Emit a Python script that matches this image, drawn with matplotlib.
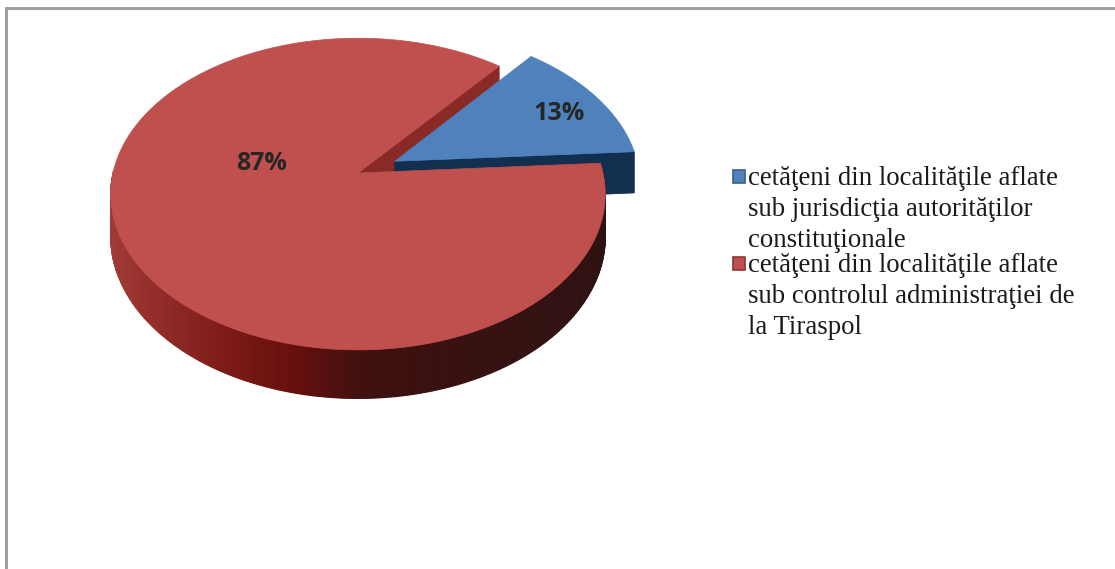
import textwrap
import numpy as np
import matplotlib
matplotlib.use("Agg")
import matplotlib.pyplot as plt
from matplotlib.patches import Polygon, Rectangle
from matplotlib.colors import LinearSegmentedColormap

# ---------------- data ----------------
categories = [
    "cetăţeni din localităţile aflate sub jurisdicţia autorităţilor constituţionale",
    "cetăţeni din localităţile aflate sub controlul administraţiei de la Tiraspol",
]
values = [13, 87]
top_colors = ["#4F81BD", "#C0504D"]
side_colors = ["#132F50", "#8A2A27"]
legend_edge = ["#3A5F8C", "#8E3532"]
explode = [0.17, 0.0]

# ---------------- layout ----------------
W, H = 1115, 569
fig = plt.figure(figsize=(W / 100, H / 100), dpi=100)
ax = fig.add_axes([0, 0, 1, 1])
ax.set_xlim(0, W)
ax.set_ylim(H, 0)
ax.axis("off")

CX, CY, A, B, K, DEPTH = 358, 173, 245, 153, 0.135, 42
START = 50.5  # first slice angle (drawn clockwise from here)

wall_cmap = LinearSegmentedColormap.from_list(
    "wall",
    [(0.0, "#A23A36"), (0.22, "#7E1C18"), (0.38, "#650F0C"),
     (0.50, "#3F1110"), (1.0, "#2E1212")],
)


def P(u, v, down=0.0):
    w = 1 + K * v
    return (CX + A * u / w, CY - B * v / w + down / w)


vals = np.array(values, dtype=float)
fr = vals / vals.sum()
edges = START - 360 * np.concatenate([[0], np.cumsum(fr)])

label_pos = [(559, 113), (262, 163)]
# z-order: radial faces of every slice first, then blue top, then red wall/top
z_radial = [2, 1]
z_wall = [3, 4]
z_top = [3.5, 5]

for i in range(len(values)):
    t2, t1 = edges[i], edges[i + 1]  # wedge spans t1 -> t2 CCW
    mid = np.radians((t1 + t2) / 2)
    du, dv = explode[i] * np.cos(mid), explode[i] * np.sin(mid)
    ts = np.radians(np.linspace(t1, t2, 400))

    # radial side faces
    for a, nrm in ((t1, t1 - 90), (t2, t2 + 90)):
        if np.sin(np.radians(nrm)) < 0:
            ar = np.radians(a)
            ou, ov = du + np.cos(ar), dv + np.sin(ar)
            quad = [P(du, dv), P(ou, ov), P(ou, ov, DEPTH), P(du, dv, DEPTH)]
            ax.add_patch(Polygon(quad, closed=True, facecolor=side_colors[i],
                                 edgecolor=side_colors[i], lw=0.6,
                                 zorder=z_radial[i]))

    # outer wall (front part)
    for j in range(len(ts) - 1):
        ta, tb = ts[j], ts[j + 1]
        if np.sin((ta + tb) / 2) >= 0.02:
            continue
        ua, va = du + np.cos(ta), dv + np.sin(ta)
        ub, vb = du + np.cos(tb), dv + np.sin(tb)
        quad = [P(ua, va), P(ub, vb), P(ub, vb, DEPTH), P(ua, va, DEPTH)]
        xm = (quad[0][0] + quad[1][0]) / 2
        if i == 1:
            c = wall_cmap(np.clip((xm - 110) / 500, 0, 1))
        else:
            c = side_colors[i]
        ax.add_patch(Polygon(quad, closed=True, facecolor=c, edgecolor=c,
                             lw=0.8, zorder=z_wall[i]))

    # top face
    pts = [P(du, dv)] + [P(du + np.cos(t), dv + np.sin(t)) for t in ts]
    ax.add_patch(Polygon(pts, closed=True, facecolor=top_colors[i],
                         edgecolor=top_colors[i], lw=0.5, zorder=z_top[i]))

    ax.text(label_pos[i][0], label_pos[i][1], f"{values[i]}%",
            ha="center", va="center", fontsize=18, fontweight="bold",
            family="Open Sans", color="#262626", zorder=20)

# ---------------- legend ----------------
entry_y = [185, 272]
for i, cat in enumerate(categories):
    lines = textwrap.wrap(cat, width=32)
    ax.add_patch(Rectangle((733, entry_y[i] - 15), 12, 13,
                           facecolor=top_colors[i], edgecolor=legend_edge[i],
                           lw=1.2, zorder=20))
    for k, ln in enumerate(lines):
        ax.text(748, entry_y[i] + 31 * k, ln, ha="left", va="baseline",
                fontsize=19.3, family="Liberation Serif", color="#1A1A1A",
                zorder=20)

# ---------------- frame ----------------
ax.plot([5, W], [7.5, 7.5], color="#A0A0A4", lw=2.2, solid_capstyle="butt",
        zorder=30)
ax.plot([6, 6], [6.5, H], color="#A0A0A4", lw=2.2, solid_capstyle="butt",
        zorder=30)

fig.savefig("out.png", dpi=100)
